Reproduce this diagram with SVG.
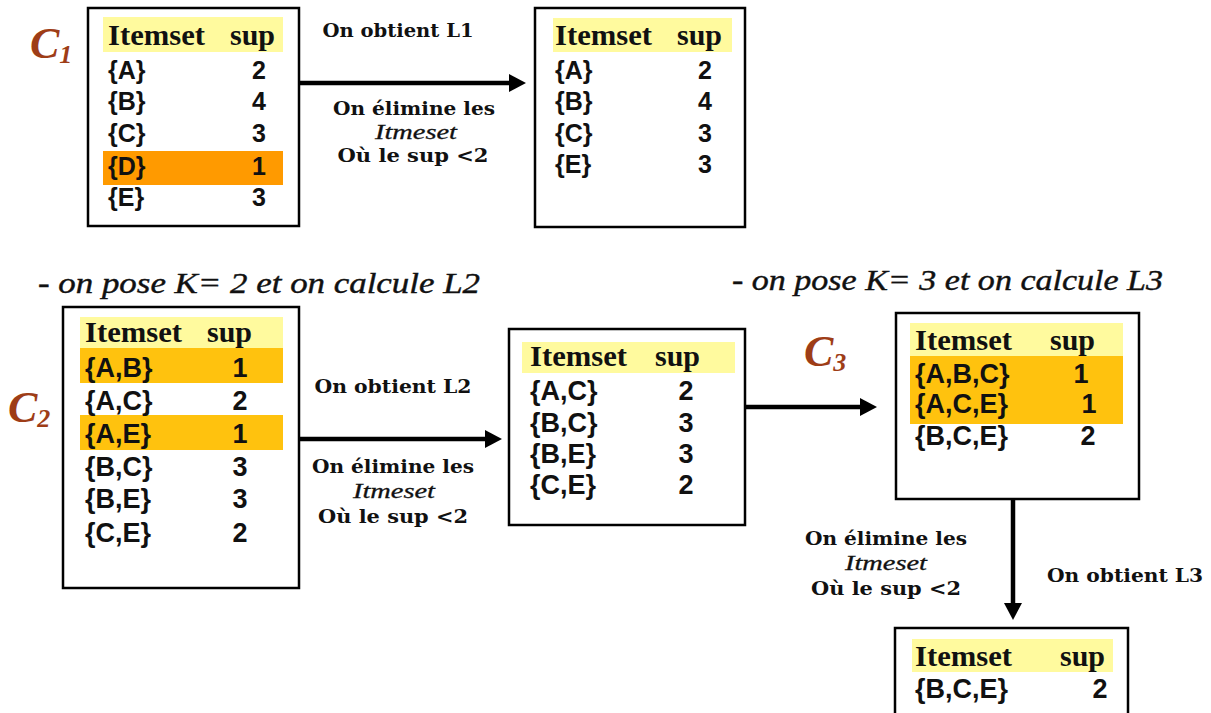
<svg xmlns="http://www.w3.org/2000/svg" width="1211" height="713" viewBox="0 0 1211 713">
  <style>
    .box { fill: #ffffff; stroke: #000000; stroke-width: 2.5; }
    .hdr { fill: #fffa9e; }
    .drop { fill: #ff9a00; }
    .gold { fill: #ffc20e; }
    .th { font-family: "Liberation Serif", "Times New Roman", serif; font-weight: bold; font-size: 30px; fill: #111; }
    .td { font-family: "Liberation Sans", Arial, sans-serif; font-weight: bold; font-size: 25px; fill: #111; }
    .tdl { font-family: "Liberation Sans", Arial, sans-serif; font-weight: bold; font-size: 27px; fill: #111; }
    .num { text-anchor: middle; }
    .lbl { font-family: "DejaVu Serif", "Liberation Serif", serif; font-weight: bold; font-size: 18px; fill: #111; text-anchor: middle; }
    .itl { font-family: "Liberation Serif", "Times New Roman", serif; font-style: italic; font-size: 21px; fill: #111; text-anchor: middle; stroke: #111; stroke-width: 0.3; }
    .step { font-family: "Liberation Serif", "Times New Roman", serif; font-style: italic; font-size: 29px; fill: #111; stroke: #111; stroke-width: 0.4; }
    .cname { font-family: "Liberation Serif", "Times New Roman", serif; font-style: italic; font-weight: bold; font-size: 44px; fill: #9e3d17; }
    .csub { font-size: 26px; }
    .conn { stroke: #000000; stroke-width: 4.5; fill: none; }
  </style>
  <defs>
    <marker id="arrow" markerUnits="userSpaceOnUse" markerWidth="17" markerHeight="18" refX="8" refY="9" orient="auto">
      <path d="M0,0 L17,9 L0,18 Z" fill="#000"/>
    </marker>
  </defs>

  <!-- step headings -->
  <text class="step" x="38" y="293" textLength="442" lengthAdjust="spacingAndGlyphs">- on pose K= 2 et on calcule L2</text>
  <text class="step" x="732" y="290" textLength="431" lengthAdjust="spacingAndGlyphs">- on pose K= 3 et on calcule L3</text>

  <!-- connectors -->
  <g id="connectors">
    <line class="conn" x1="299" y1="83" x2="517" y2="83" marker-end="url(#arrow)"/>
    <line class="conn" x1="299" y1="439" x2="493" y2="439" marker-end="url(#arrow)"/>
    <line class="conn" x1="745" y1="407" x2="868" y2="407" marker-end="url(#arrow)"/>
    <line class="conn" x1="1013" y1="499" x2="1013" y2="611" marker-end="url(#arrow)"/>

    <text class="lbl" x="398" y="37" textLength="151" lengthAdjust="spacingAndGlyphs">On obtient  L1</text>
    <text class="lbl" x="414" y="115" textLength="162" lengthAdjust="spacingAndGlyphs">On élimine  les</text>
    <text class="itl" x="416" y="139" textLength="82" lengthAdjust="spacingAndGlyphs">Itmeset</text>
    <text class="lbl" x="413" y="162" textLength="151" lengthAdjust="spacingAndGlyphs">Où  le  sup &lt;2</text>

    <text class="lbl" x="393" y="393" textLength="157" lengthAdjust="spacingAndGlyphs">On obtient  L2</text>
    <text class="lbl" x="393" y="473" textLength="162" lengthAdjust="spacingAndGlyphs">On élimine  les</text>
    <text class="itl" x="394" y="498" textLength="82" lengthAdjust="spacingAndGlyphs">Itmeset</text>
    <text class="lbl" x="393" y="523" textLength="150" lengthAdjust="spacingAndGlyphs">Où  le  sup &lt;2</text>

    <text class="lbl" x="886" y="545" textLength="162" lengthAdjust="spacingAndGlyphs">On élimine  les</text>
    <text class="itl" x="886" y="570" textLength="82" lengthAdjust="spacingAndGlyphs">Itmeset</text>
    <text class="lbl" x="886" y="595" textLength="150" lengthAdjust="spacingAndGlyphs">Où  le  sup &lt;2</text>
    <text class="lbl" x="1125" y="582" textLength="156" lengthAdjust="spacingAndGlyphs">On obtient  L3</text>
  </g>

  <!-- C1: candidate 1-itemsets -->
  <g id="c1">
    <text class="cname" x="30" y="58">C<tspan class="csub" dy="5">1</tspan></text>
    <rect class="box" x="88" y="8" width="211" height="218"/>
    <rect class="hdr" x="103" y="17" width="180" height="35"/>
    <rect class="drop" x="103" y="151" width="180" height="34"/>
    <text class="th" x="108" y="45" textLength="97" lengthAdjust="spacingAndGlyphs">Itemset</text>
    <text class="th" x="230" y="45">sup</text>
    <text class="td" x="108" y="79">{A}</text><text class="td num" x="259" y="79">2</text>
    <text class="td" x="108" y="110">{B}</text><text class="td num" x="259" y="110">4</text>
    <text class="td" x="108" y="142">{C}</text><text class="td num" x="259" y="142">3</text>
    <text class="td" x="108" y="175">{D}</text><text class="td num" x="259" y="175">1</text>
    <text class="td" x="108" y="206">{E}</text><text class="td num" x="259" y="206">3</text>
  </g>

  <!-- L1: frequent 1-itemsets -->
  <g id="l1">
    <rect class="box" x="535" y="8" width="210" height="219"/>
    <rect class="hdr" x="553" y="18" width="179" height="34"/>
    <text class="th" x="555" y="45" textLength="97" lengthAdjust="spacingAndGlyphs">Itemset</text>
    <text class="th" x="677" y="45">sup</text>
    <text class="td" x="555" y="79">{A}</text><text class="td num" x="705" y="79">2</text>
    <text class="td" x="555" y="110">{B}</text><text class="td num" x="705" y="110">4</text>
    <text class="td" x="555" y="142">{C}</text><text class="td num" x="705" y="142">3</text>
    <text class="td" x="555" y="173">{E}</text><text class="td num" x="705" y="173">3</text>
  </g>

  <!-- C2: candidate 2-itemsets -->
  <g id="c2">
    <text class="cname" x="8" y="422">C<tspan class="csub" dy="5">2</tspan></text>
    <rect class="box" x="63" y="307" width="236" height="281"/>
    <rect class="hdr" x="80" y="317" width="203" height="31"/>
    <rect class="gold" x="80" y="348" width="203" height="35"/>
    <rect class="gold" x="80" y="415" width="203" height="35"/>
    <text class="th" x="85" y="342" textLength="97" lengthAdjust="spacingAndGlyphs">Itemset</text>
    <text class="th" x="207" y="342">sup</text>
    <text class="tdl" x="85" y="377">{A,B}</text><text class="tdl num" x="240" y="377">1</text>
    <text class="tdl" x="85" y="410">{A,C}</text><text class="tdl num" x="240" y="410">2</text>
    <text class="tdl" x="85" y="443">{A,E}</text><text class="tdl num" x="240" y="443">1</text>
    <text class="tdl" x="85" y="476">{B,C}</text><text class="tdl num" x="240" y="476">3</text>
    <text class="tdl" x="85" y="508">{B,E}</text><text class="tdl num" x="240" y="508">3</text>
    <text class="tdl" x="85" y="542">{C,E}</text><text class="tdl num" x="240" y="542">2</text>
  </g>

  <!-- L2: frequent 2-itemsets -->
  <g id="l2">
    <rect class="box" x="509" y="329" width="236" height="196"/>
    <rect class="hdr" x="522" y="342" width="213" height="31"/>
    <text class="th" x="530" y="366" textLength="97" lengthAdjust="spacingAndGlyphs">Itemset</text>
    <text class="th" x="655" y="366">sup</text>
    <text class="tdl" x="530" y="400">{A,C}</text><text class="tdl num" x="686" y="400">2</text>
    <text class="tdl" x="530" y="432">{B,C}</text><text class="tdl num" x="686" y="432">3</text>
    <text class="tdl" x="530" y="463">{B,E}</text><text class="tdl num" x="686" y="463">3</text>
    <text class="tdl" x="530" y="494">{C,E}</text><text class="tdl num" x="686" y="494">2</text>
  </g>

  <!-- C3: candidate 3-itemsets -->
  <g id="c3">
    <text class="cname" x="804" y="366">C<tspan class="csub" dy="5">3</tspan></text>
    <rect class="box" x="896" y="313" width="243" height="186"/>
    <rect class="hdr" x="910" y="323" width="213" height="33"/>
    <rect class="gold" x="910" y="356" width="213" height="68"/>
    <text class="th" x="915" y="350" textLength="97" lengthAdjust="spacingAndGlyphs">Itemset</text>
    <text class="th" x="1050" y="350">sup</text>
    <text class="tdl" x="915" y="383">{A,B,C}</text><text class="tdl num" x="1081" y="383">1</text>
    <text class="tdl" x="915" y="413">{A,C,E}</text><text class="tdl num" x="1089" y="413">1</text>
    <text class="tdl" x="915" y="445">{B,C,E}</text><text class="tdl num" x="1088" y="445">2</text>
  </g>

  <!-- L3: frequent 3-itemsets -->
  <g id="l3">
    <rect class="box" x="895" y="628" width="233" height="100"/>
    <rect class="hdr" x="912" y="639" width="201" height="33"/>
    <text class="th" x="915" y="666" textLength="97" lengthAdjust="spacingAndGlyphs">Itemset</text>
    <text class="th" x="1060" y="666">sup</text>
    <text class="tdl" x="915" y="698">{B,C,E}</text><text class="tdl num" x="1100" y="698">2</text>
  </g>
</svg>
